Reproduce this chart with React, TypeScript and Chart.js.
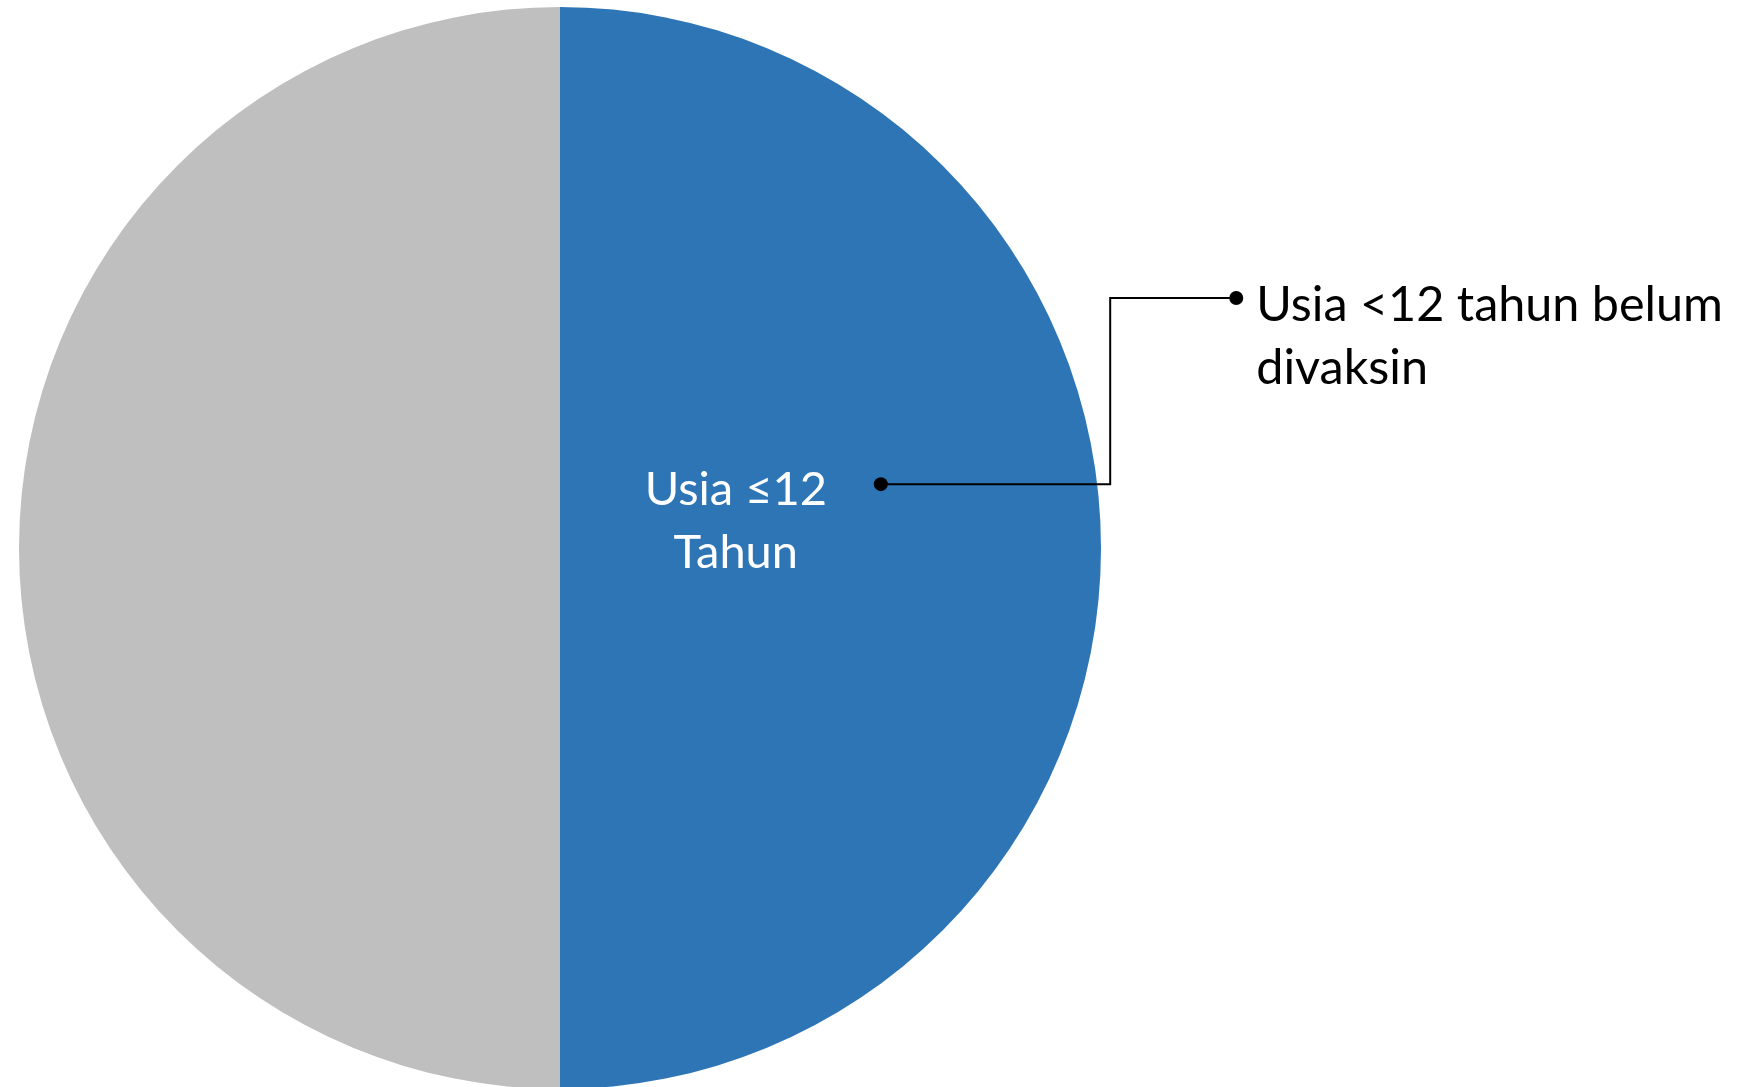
import React, { useEffect, useRef } from "react";
import { Chart, registerables } from "chart.js";

Chart.register(...registerables);

const sliceLabels = ["Usia ≤12 Tahun", "Usia <12 tahun belum divaksin"];
const sliceValues = [50, 50];
const sliceColors = ["#2E75B6", "#BFBFBF"];
const innerLabelLines = ["Usia ≤12", "Tahun"];
const calloutLines = ["Usia <12 tahun belum", "divaksin"];

const INNER_FONT = "47px Lato";
const CALLOUT_FONT = "48.5px Lato";

const labelPlugin = {
  id: "labelPlugin",
  afterDraw(chart: any) {
    const meta = chart.getDatasetMeta(0);
    const arc = meta.data[0];
    if (!arc) return;
    const { x, y, outerRadius: r } = arc.getProps(["x", "y", "outerRadius"], true);
    const ctx = chart.ctx;
    ctx.save();
    // inner label
    ctx.font = INNER_FONT;
    ctx.fillStyle = "#FFFFFF";
    ctx.textAlign = "center";
    ctx.textBaseline = "alphabetic";
    const ix = x + 0.325 * r;
    ctx.fillText(innerLabelLines[0], ix, y - 0.079 * r);
    ctx.fillText(innerLabelLines[1], ix, y + 0.037 * r);

    // leader line
    const d1x = x + 0.593 * r;
    const d1y = y - 0.118 * r;
    const ex = x + 1.017 * r;
    const ty = y - 0.462 * r;
    const d2x = x + 1.25 * r;
    ctx.strokeStyle = "#000000";
    ctx.lineWidth = 2;
    ctx.beginPath();
    ctx.moveTo(d1x, d1y);
    ctx.lineTo(ex, d1y);
    ctx.lineTo(ex, ty);
    ctx.lineTo(d2x, ty);
    ctx.stroke();
    ctx.fillStyle = "#000000";
    ctx.beginPath();
    ctx.arc(d1x, d1y, 7, 0, Math.PI * 2);
    ctx.fill();
    ctx.beginPath();
    ctx.arc(d2x, ty, 7, 0, Math.PI * 2);
    ctx.fill();

    // callout text
    ctx.font = CALLOUT_FONT;
    ctx.textAlign = "left";
    const tx = x + 1.287 * r;
    ctx.fillText(calloutLines[0], tx, y - 0.419 * r);
    ctx.fillText(calloutLines[1], tx, y - 0.303 * r);
    ctx.restore();
  },
};

export default function App() {
  const ref = useRef<HTMLCanvasElement | null>(null);
  useEffect(() => {
    document.body.style.margin = "0";
    document.body.style.overflow = "hidden";
    const canvas = ref.current!;
    const chart = new Chart(canvas, {
      type: "pie",
      data: {
        labels: sliceLabels,
        datasets: [
          {
            data: sliceValues,
            backgroundColor: sliceColors,
            borderWidth: 0,
          },
        ],
      },
      options: {
        responsive: false,
        animation: false,
        devicePixelRatio: 1,
        layout: { padding: { left: 19, right: 656, top: 7, bottom: 11 } },
        plugins: {
          legend: { display: false },
          tooltip: { enabled: false },
        },
      },
      plugins: [labelPlugin],
    });
    return () => chart.destroy();
  }, []);
  return (
    <div style={{ position: "fixed", left: 0, top: 0, width: 1757, height: 1100, background: "#fff" }}>
      <canvas ref={ref} width={1757} height={1100} />
    </div>
  );
}
